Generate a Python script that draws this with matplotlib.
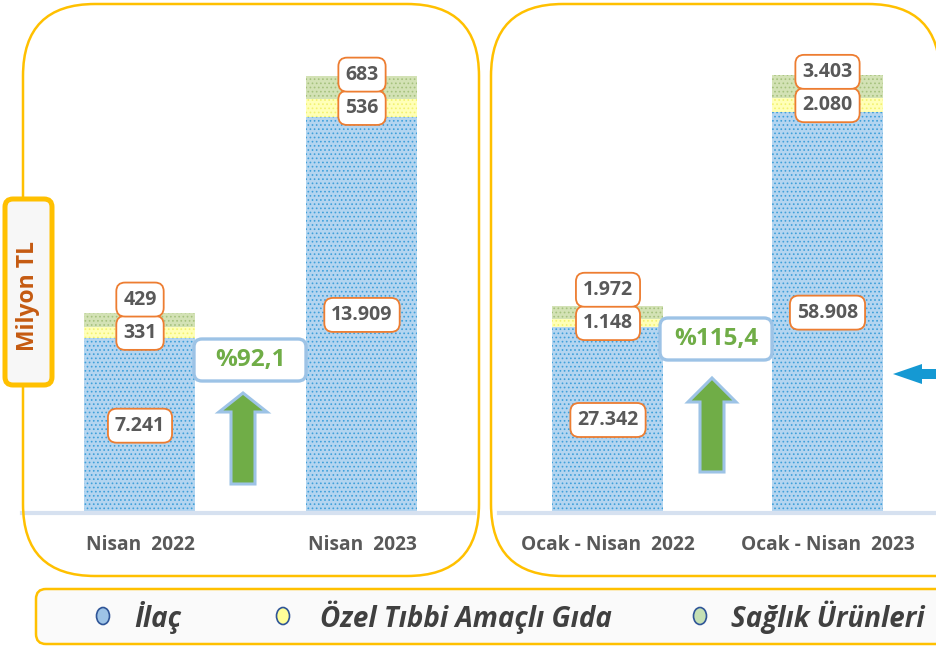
import numpy as np
import matplotlib
matplotlib.use("Agg")
import matplotlib.pyplot as plt
from matplotlib.patches import FancyBboxPatch, Polygon, Ellipse
from matplotlib.transforms import Affine2D, Bbox

plt.rcParams["font.family"] = ["Open Sans", "DejaVu Sans"]
plt.rcParams["hatch.linewidth"] = 0.7

W, H = 937, 646

# ── data ──────────────────────────────────────────────────────────────────────
series = ["İlaç", "Özel Tıbbi Amaçlı Gıda", "Sağlık Ürünleri"]

left_periods = ["Nisan  2022", "Nisan  2023"]
left_ilac    = [7241, 13909]
left_ozel    = [331, 536]
left_saglik  = [429, 683]

right_periods = ["Ocak - Nisan  2022", "Ocak - Nisan  2023"]
right_ilac    = [27342, 58908]
right_ozel    = [1148, 2080]
right_saglik  = [1972, 3403]

# ── styles ────────────────────────────────────────────────────────────────────
FACE  = ["#B4D5F0", "#FFFFB8", "#D3E2B5"]
HATCH = ["#3FA0DA", "#F2F270", "#A6C27E"]
MARK  = ["#9DC3E6", "#FFFF99", "#C5E0B4"]
GOLD   = "#FFC000"
ORANGE = "#ED7D31"
GREY   = "#595959"
LBLUE  = "#9DC3E6"
GREEN  = "#70AD47"

fig = plt.figure(figsize=(W / 100, H / 100), dpi=100)
# pixel coordinates measured from the top-left corner
T = Affine2D().scale(1, -1).translate(0, H)


def tr(n):
    return f"{n:,}".replace(",", ".")


def panel_axes(x0, x1, centers, ylo, yhi):
    ax = fig.add_axes([x0 / W, (H - 513) / H, (x1 - x0) / W, 508 / H])
    step = centers[1] - centers[0]
    ax.set_xlim(-(centers[0] - x0) / step, (x1 - centers[0]) / step)
    ax.set_ylim(ylo, yhi)
    ax.patch.set_alpha(0)
    for s in ax.spines.values():
        s.set_visible(False)
    ax.set_yticks([])
    return ax, 111 / step


def draw_panel(ax, bw, periods, ilac, ozel, saglik, line_span):
    x = np.arange(len(periods))
    ilac, ozel, saglik = map(np.array, (ilac, ozel, saglik))
    bottoms = [np.zeros(len(x)), ilac, ilac + ozel]
    for vals, bot, fc, hc in zip([ilac, ozel, saglik], bottoms, FACE, HATCH):
        ax.bar(x, vals, bw, bottom=bot, color=fc, edgecolor=hc, hatch="....",
               linewidth=0, zorder=2)
    y0 = ax.get_ylim()[0]
    ax.axhline(y0, line_span[0], line_span[1], color="#D6E1F0", lw=3,
               zorder=3, clip_on=False)
    ax.set_xticks(x)
    ax.set_xticklabels(periods, fontsize=13.8, fontweight="bold", color=GREY)
    ax.tick_params(axis="x", length=0, pad=16)

    box = dict(boxstyle="round,pad=0.36,rounding_size=0.45", fc="white",
               ec=ORANGE, lw=1.3)
    kw = dict(ha="center", va="center", fontsize=14, fontweight="bold",
              color=GREY, bbox=box, zorder=5, textcoords="offset points")
    for i in x:
        ax.annotate(tr(ilac[i]), (i, (max(y0, 0) + ilac[i]) / 2),
                    xytext=(0, 0), **kw)
        ymid = ilac[i] + ozel[i] / 2
        ax.annotate(tr(ozel[i]), (i, ymid), xytext=(0, 0), **kw)
        ax.annotate(tr(saglik[i]), (i, ymid), xytext=(0, 24), **kw)


# left panel: axis starts near 2.000
axL, bwL = panel_axes(22, 479, [140, 362], 1985, 1985 + 508 * 30.1)
draw_panel(axL, bwL, left_periods, left_ilac, left_ozel, left_saglik, (0, 0.989))
# right panel
axR, bwR = panel_axes(491, 937, [608, 827.5], 0, 508 * 147)
draw_panel(axR, bwR, right_periods, right_ilac, right_ozel, right_saglik, (0.018, 1))

# ── decorations in pixel space ────────────────────────────────────────────────
fig.patches.append(FancyBboxPatch((23, 4), 456, 572,
                                  boxstyle="round,pad=0,rounding_size=72",
                                  fc="none", ec=GOLD, lw=1.8, transform=T,
                                  zorder=1))
# right panel: top-right corner just visible, bottom-right beyond the edge
split = 110
for x1, clip in [(940, Bbox([[0, H - split], [W, H]])),
                 (1100, Bbox([[0, 0], [W, H - split]]))]:
    p = FancyBboxPatch((491, 4), x1 - 491, 572,
                       boxstyle="round,pad=0,rounding_size=72",
                       fc="none", ec=GOLD, lw=1.8, transform=T, zorder=1)
    p.set_clip_box(clip)
    fig.patches.append(p)


def pct_box(cx, cy, new, old):
    p = (new / old - 1) * 100
    fig.patches.append(FancyBboxPatch((cx - 56, cy - 21), 112, 42,
                                      boxstyle="round,pad=0,rounding_size=8",
                                      fc="white", ec=LBLUE, lw=2.4, transform=T,
                                      zorder=6))
    fig.text(cx, cy, "%" + f"{p:.1f}".replace(".", ","), transform=T,
             ha="center", va="center", fontsize=17.5, fontweight="bold",
             color=GREEN, zorder=7)


def up_arrow(cx, tip, base, bottom):
    pts = [(cx - 12, bottom), (cx - 12, base), (cx - 24, base), (cx, tip),
           (cx + 24, base), (cx + 12, base), (cx + 12, bottom)]
    fig.patches.append(Polygon(pts, closed=True, fc=GREEN, ec=LBLUE, lw=2.2,
                               transform=T, zorder=6))


pct_box(250, 360, left_ilac[1], left_ilac[0])
pct_box(716, 339, right_ilac[1], right_ilac[0])
up_arrow(243, 393, 412, 484)
up_arrow(712, 378, 402, 472)

# small blue arrow at the right edge
fig.patches.append(Polygon([(893, 374), (922, 364), (922, 369), (945, 369),
                            (945, 379), (922, 379), (922, 384)], closed=True,
                           fc="#1599D3", ec="none", transform=T, zorder=6))

# unit box
fig.patches.append(FancyBboxPatch((5, 199), 47, 186,
                                  boxstyle="round,pad=0,rounding_size=8",
                                  fc="#F7F7F7", ec=GOLD, lw=3.6, transform=T,
                                  zorder=8))
fig.text(28.5, 296, "Milyon TL", transform=T, rotation=90, ha="center",
         va="center", fontsize=16.5, fontweight="bold", color="#C55A11", zorder=9)

# legend
fig.patches.append(FancyBboxPatch((36, 589), 920, 55,
                                  boxstyle="round,pad=0,rounding_size=10",
                                  fc="#FAFAFA", ec=GOLD, lw=1.8, transform=T,
                                  zorder=8))
for name, mc, mx, tx in zip(series, MARK, [103, 283, 700], [134, 320, 731]):
    fig.patches.append(Ellipse((mx, 616), 13, 17, fc=mc, ec="#2F5597", lw=1.2,
                               transform=T, zorder=9))
    fig.text(tx, 617, name, transform=T, ha="left", va="center", fontsize=20,
             fontweight="bold", style="italic", color="#404040", zorder=9)

fig.savefig("out.png", dpi=100)
